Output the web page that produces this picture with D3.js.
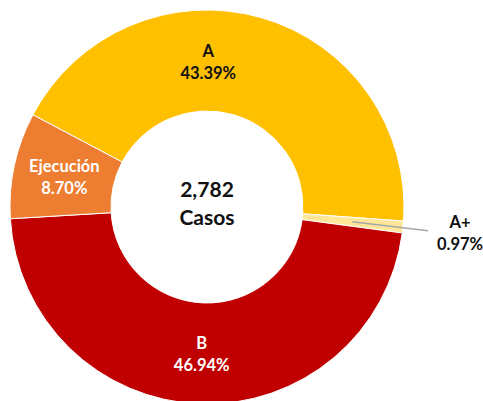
<!DOCTYPE html>
<html>
<head>
<meta charset="utf-8">
<script src="https://cdnjs.cloudflare.com/ajax/libs/d3/7.8.5/d3.min.js"></script>
<style>
  body { margin: 0; background: #fff; }
  text { font-family: Lato, "Open Sans", sans-serif; font-weight: bold; }
</style>
</head>
<body>
<div id="chart"></div>
<script>
// data
const categories = ["A", "A+", "B", "Ejecución"];
const counts = [1207, 27, 1306, 242];
const percentLabels = ["43.39%", "0.97%", "46.94%", "8.70%"];
const totalLabel = "2,782";
const totalCaption = "Casos";

const colors = ["#FFC000", "#FFE699", "#C00000", "#ED7D31"];
const textColors = ["#111", "#111", "#fff", "#fff"];

const width = 483, height = 401;
const cx = 207, cy = 207;
const outerR = 197, innerR = 96;
const startDeg = -62.1;
const labelR = 146;

const svg = d3.select("#chart").append("svg")
  .attr("width", width)
  .attr("height", height);

const g = svg.append("g").attr("transform", `translate(${cx},${cy})`);

const start = startDeg * Math.PI / 180;
const pie = d3.pie().sort(null).value(d => d)
  .startAngle(start).endAngle(start + 2 * Math.PI);
const arcs = pie(counts);

const arc = d3.arc().innerRadius(innerR).outerRadius(outerR);

g.selectAll("path.slice")
  .data(arcs)
  .enter()
  .append("path")
  .attr("class", "slice")
  .attr("d", arc)
  .attr("fill", (d, i) => colors[i])
  .attr("stroke", "#fff")
  .attr("stroke-width", 1);

// label angle: slice middle, A label was dragged toward the top
const angleNudge = {"A": -15.5 * Math.PI / 180};
function midAngle(d, i) {
  return (d.startAngle + d.endAngle) / 2 + (angleNudge[categories[i]] || 0);
}
function polar(a, r) { return [r * Math.sin(a), -r * Math.cos(a)]; }

const lineH = 22;
arcs.forEach((d, i) => {
  const name = categories[i];
  let p;
  if (name === "A+") {
    // outside label with leader line
    const a = midAngle(d, i);
    const p0 = polar(a, labelR);
    const p1 = [outerR + 24, p0[1] + 9];
    g.append("line")
      .attr("x1", p0[0]).attr("y1", p0[1])
      .attr("x2", p1[0]).attr("y2", p1[1])
      .attr("stroke", "#A6A6A6")
      .attr("stroke-width", 1.5);
    p = [outerR + 56, p0[1] + 10];
  } else {
    p = polar(midAngle(d, i), labelR);
  }
  const t = g.append("text")
    .attr("text-anchor", "middle")
    .attr("fill", textColors[i])
    .style("font-size", "16.5px");
  t.append("tspan").attr("x", p[0]).attr("y", p[1] - 4).text(name);
  t.append("tspan").attr("x", p[0]).attr("y", p[1] - 4 + lineH).text(percentLabels[i]);
});

g.append("text")
  .attr("text-anchor", "middle")
  .attr("y", -10)
  .style("font-size", "21px")
  .attr("fill", "#111")
  .text(totalLabel);
g.append("text")
  .attr("text-anchor", "middle")
  .attr("y", 18)
  .style("font-size", "21px")
  .attr("fill", "#111")
  .text(totalCaption);
</script>
</body>
</html>
